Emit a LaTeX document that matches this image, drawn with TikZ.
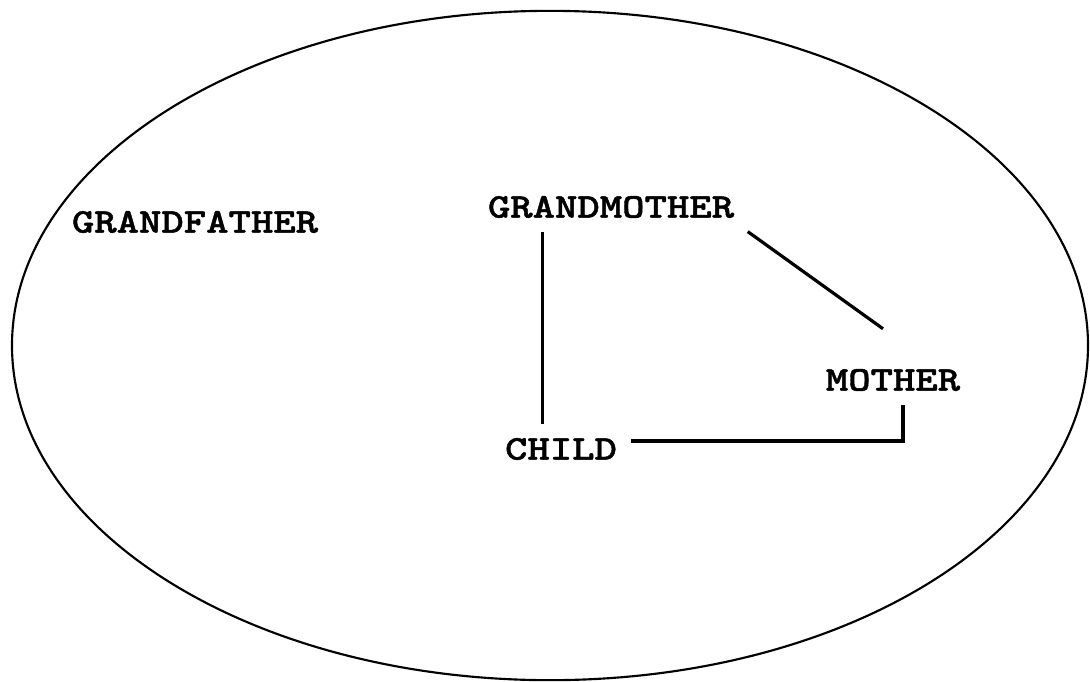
\documentclass[tikz,border=0pt]{standalone}
\usepackage{fontspec}
\usepackage{tikz}
\usetikzlibrary{positioning,shapes.geometric}
\newfontfamily\typefont{lmmonolt10-bold.otf}[FakeStretch=1.23,FakeBold=1.2]

\begin{document}
\begin{tikzpicture}[x=0.75pt, y=-0.75pt,
     person/.style={inner sep=10pt, font=\typefont\fontsize{26}{29}\selectfont},
     link/.style={line width=2.4pt, line cap=butt},
     rim/.style={draw, ellipse, line width=1.6pt, minimum width=807pt, minimum height=502pt, inner sep=0pt}]
     \useasboundingbox (0,0) rectangle (1090,682);
     \node[rim] (family) at (550,345.5) {};
     \node[person] (gf) at (195,222) {GRANDFATHER};
     \node[person] (gm) at (611,207) {GRANDMOTHER};
     \node[person] (mother) at (893,380) {MOTHER};
     \node[person] (child) at (561,449) {CHILD};
     \draw[link] ([xshift=-14pt]child.north) -- ([xshift=-14pt]child.north |- gm.south);
     \draw[link] (gm.south east) -- ([xshift=-7.5pt,yshift=20pt]mother.north);
     \draw[link] ([yshift=6pt]child.east) -| ([xshift=7.5pt]mother.south);
  \end{tikzpicture}
\end{document}
